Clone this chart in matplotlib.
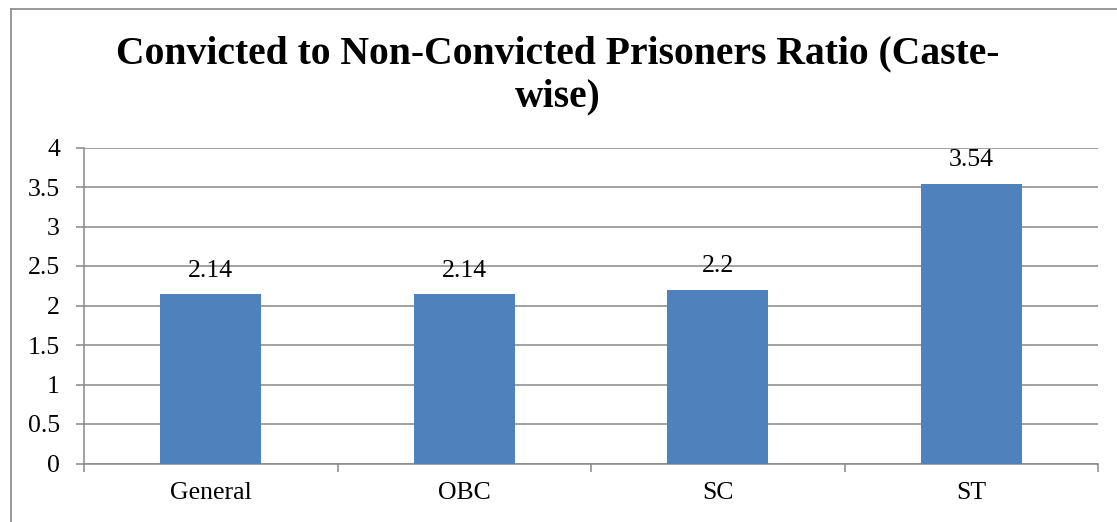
import matplotlib
matplotlib.use("Agg")
import matplotlib.pyplot as plt
from matplotlib.lines import Line2D

categories = ["General", "OBC", "SC", "ST"]
values = [2.14, 2.14, 2.2, 3.54]
value_labels = ["2.14", "2.14", "2.2", "3.54"]
yticks = [0, 0.5, 1, 1.5, 2, 2.5, 3, 3.5, 4]
ytick_labels = ["0", "0.5", "1", "1.5", "2", "2.5", "3", "3.5", "4"]
title_lines = ["Convicted to Non-Convicted Prisoners Ratio (Caste-", "wise)"]

plt.rcParams['font.family'] = ['Liberation Serif', 'DejaVu Serif']

W, H = 1117, 522
fig = plt.figure(figsize=(W / 100, H / 100), dpi=100)
ax = fig.add_axes([84 / W, 1 - 463.5 / H, (1098 - 84) / W, (463.5 - 147.5) / H])

grid_color = "#888888"
x = list(range(len(categories)))
ax.bar(x, values, width=0.4, color="#4F81BD", zorder=3)
for xi, v, lab in zip(x, values, value_labels):
    ax.annotate(lab, (xi, v), xytext=(0, 9), textcoords="offset points",
                ha="center", va="bottom", fontsize=18.5, color="black")

ax.set_xlim(-0.5, len(categories) - 0.5)
ax.set_ylim(0, 4)
ax.set_yticks(yticks)
ax.set_yticklabels(ytick_labels, fontsize=18.5)
ax.yaxis.grid(True, color=grid_color, linewidth=1.1, zorder=0)
ax.set_axisbelow(True)

ax.set_xticks([i - 0.5 for i in range(len(categories) + 1)])
ax.set_xticklabels([])
ax.set_xticks(x, minor=True)
ax.set_xticklabels(categories, minor=True, fontsize=18.5)
ax.tick_params(axis="x", which="minor", length=0, pad=13)
ax.tick_params(axis="x", which="major", length=5.8, width=1.1, color=grid_color, direction="out")
ax.tick_params(axis="y", length=5.8, width=1.1, color=grid_color, direction="out", pad=11.5)

for s in ["top", "right"]:
    ax.spines[s].set_visible(False)
for s in ["left", "bottom"]:
    ax.spines[s].set_color(grid_color)
    ax.spines[s].set_linewidth(1.1)

for line, yb in zip(title_lines, [63.5, 106.5]):
    fig.text(558 / W, 1 - yb / H, line, ha="center", va="baseline", fontsize=28.5,
             fontweight="bold")

# chart border (left and top edges visible)
fig.add_artist(Line2D([11 / W, 11 / W], [0, 1 - 8.5 / H], transform=fig.transFigure,
                      color=grid_color, linewidth=1.2))
fig.add_artist(Line2D([11 / W, 1], [1 - 8.5 / H, 1 - 8.5 / H], transform=fig.transFigure,
                      color=grid_color, linewidth=1.2))

fig.savefig("out.png", dpi=100)
